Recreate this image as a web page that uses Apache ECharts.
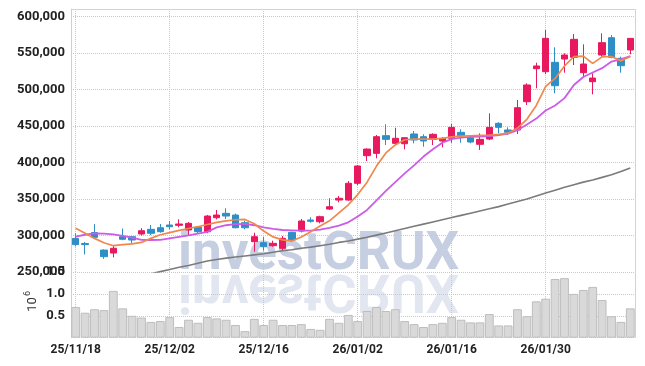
<!DOCTYPE html>
<html><head><meta charset="utf-8">
<script src="https://cdn.jsdelivr.net/npm/echarts@6/dist/echarts.min.js"></script>
<style>html,body{margin:0;padding:0;background:#fff}#c{width:645px;height:366px}</style>
</head><body><div id="c"></div>
<script>
const dates = ['25/11/18','25/11/19','25/11/20','25/11/21','25/11/24','25/11/25','25/11/26','25/11/27','25/11/28','25/12/01',
'25/12/02','25/12/03','25/12/04','25/12/05','25/12/08','25/12/09','25/12/10','25/12/11','25/12/12','25/12/15',
'25/12/16','25/12/17','25/12/18','25/12/19','25/12/22','25/12/23','25/12/24','25/12/26','25/12/29','25/12/30',
'26/01/02','26/01/05','26/01/06','26/01/07','26/01/08','26/01/09','26/01/12','26/01/13','26/01/14','26/01/15',
'26/01/16','26/01/19','26/01/20','26/01/21','26/01/22','26/01/23','26/01/26','26/01/27','26/01/28','26/01/29',
'26/01/30','26/02/02','26/02/03','26/02/04','26/02/05','26/02/06','26/02/09','26/02/10','26/02/11','26/02/12'];

const opens = [296000,289000,304000,280000,276000,298300,298300,302000,308400,310600,314300,313900,307500,311200,305200,324300,330300,328000,317500,291500,290100,286000,282400,304300,306100,321200,318800,336200,348500,348500,371400,409200,412400,436600,426100,425600,438900,435200,431600,429300,433000,441200,433800,424800,432000,453500,444400,444400,483100,528300,524200,537000,541500,543900,522800,510500,547000,570700,542500,553900];
const closes = [287500,287500,297500,271000,282500,294800,293800,306500,303000,305200,312000,315700,316600,305200,326600,328000,326600,310600,310600,298300,284600,289200,296100,293800,319800,319400,325700,339400,350900,371400,395100,418300,435200,431600,433000,433800,430700,429300,438500,433000,448000,436600,427900,431600,448000,448000,441200,474900,506000,532000,569800,505000,547000,568500,534700,515500,563900,543900,532400,569800];
const lows = [285000,274000,296000,268000,270000,293500,289000,300000,300600,303800,308400,311200,300600,303000,303000,322000,322500,309800,308400,277800,279200,284600,279200,291500,304300,317500,316600,334900,345400,347600,369000,401900,405600,423800,423800,417900,426100,421500,423800,420600,427000,427000,426100,417000,430700,439800,437500,438900,478600,501400,521000,494600,522800,533300,517300,493200,544700,542500,522800,548000];
const highs = [303000,291000,315500,281000,287000,309500,299000,310000,314300,315700,319800,322100,318400,313000,328000,334900,337200,330000,320200,303800,298300,292800,299300,305200,322500,324800,327000,350900,354000,374500,396500,419300,437500,452200,447500,434500,443000,438500,439800,434300,452600,445300,435200,439800,467200,455000,448000,485400,508300,536500,581200,557600,549300,575800,561600,522000,576700,574400,544700,570000];
const volumes = [700000,570000,650000,630000,1070000,670000,500000,460000,360000,380000,
470000,245000,410000,340000,470000,440000,410000,290000,150000,430000,
290000,410000,290000,290000,310000,200000,180000,430000,340000,520000,
380000,610000,700000,610000,650000,380000,310000,245000,310000,340000,
470000,410000,350000,350000,540000,280000,280000,650000,490000,830000,
890000,1340000,1360000,1000000,1090000,1160000,860000,490000,360000,670000];
const ma5 = [310000,303000,296000,290000,286000,287500,288500,290500,296000,301000,304000,307000,309500,312000,315000,318000,320000,321500,322000,316000,306000,298000,294000,292500,298000,305000,313000,320000,331000,342000,356000,373000,395000,413000,424000,431000,432000,432000,432000,433000,435000,436000,436500,437000,437500,438500,440000,447000,459000,478000,504000,515000,532000,545000,545500,535500,544500,545000,539000,545000];
const ma10 = [298500,301000,303000,302500,301500,299500,297000,294000,293800,294000,296000,298000,300000,302500,305000,311000,314000,315500,316000,314000,311000,309000,307500,307000,306500,306500,308000,310500,313500,318000,326000,335000,348000,361000,373000,385000,396000,408000,418000,427000,432000,434000,435000,435500,436000,437500,439500,444000,452000,460000,471000,478000,488000,506000,517000,523000,529000,538000,541000,545500];
const maLong = [232000,234000,236000,238000,240000,242000,244000,245500,247500,250500,253500,256500,259000,262000,265000,267000,269000,270500,272000,273500,275000,277000,279000,280500,282500,284000,286000,288000,290500,292500,295000,297500,300500,303500,306500,309500,312500,315500,318500,321500,324500,327500,330500,333500,336500,339500,343000,346500,350000,354000,358000,362000,366000,369500,373000,376000,379500,383000,387500,392500];

const candles = opens.map((o, i) => [o, closes[i], lows[i], highs[i]]);
const fmt = v => String(v).replace(/\B(?=(\d{3})+(?!\d))/g, ',');
const FONT = 'Roboto';
const gridLine = {type: 'dotted', color: '#c3c7d8', width: 1};

const chart = echarts.init(document.getElementById('c'), null, {renderer: 'canvas'});
chart.setOption({
  animation: false,
  backgroundColor: '#ffffff',
  grid: [
    {left: 71, right: 10, top: 9, height: 263},
    {left: 71, right: 10, top: 272, height: 65.7}
  ],
  xAxis: [
    {type: 'category', gridIndex: 0, data: dates, boundaryGap: true,
     axisLine: {show: false}, axisTick: {show: false}, axisLabel: {show: false},
     splitLine: {show: true, interval: 9, alignWithLabel: true, lineStyle: gridLine}},
    {type: 'category', gridIndex: 1, data: dates, boundaryGap: true,
     axisLine: {show: false}, axisTick: {show: false},
     axisLabel: {interval: 9, margin: 6, color: '#222', fontFamily: FONT, fontSize: 12, fontWeight: 'bold'},
     splitLine: {show: true, interval: 9, alignWithLabel: true, lineStyle: gridLine}}
  ],
  yAxis: [
    {type: 'value', gridIndex: 0, min: 250000, max: 610000, interval: 50000,
     axisLine: {show: true, lineStyle: {color: '#cfcfcf'}}, axisTick: {show: false},
     axisLabel: {showMaxLabel: false, margin: 6, color: '#222', fontFamily: FONT, fontSize: 13, fontWeight: 'bold', formatter: v => fmt(v)},
     splitLine: {show: true, lineStyle: gridLine}},
    {type: 'value', gridIndex: 1, min: 0, max: 1500000, interval: 500000,
     axisLine: {show: true, lineStyle: {color: '#cfcfcf'}}, axisTick: {show: false},
     axisLabel: {showMinLabel: false, margin: 6, color: '#222', fontFamily: FONT, fontSize: 13, fontWeight: 'bold', formatter: v => (v / 1e6).toFixed(1)},
     splitLine: {show: true, lineStyle: gridLine}}
  ],
  graphic: [
    {type: 'text', z: -10, x: 178, y: 256,
     style: {text: 'investCRUX', font: 'bold 53px Roboto', fill: '#c6cee2', verticalAlign: 'middle'}},
    {type: 'group', z: -10, x: 0, y: 272, scaleY: -1, children: [
      {type: 'text', z: -10, x: 178, y: -16,
       style: {text: 'investCRUX', font: 'bold 53px Roboto', fill: '#c6cee2', opacity: 0.5, verticalAlign: 'middle'}}
    ]},
    {type: 'polyline', z: 5, shape: {points: [[71, 9.5], [635.5, 9.5], [635.5, 338]]},
     style: {stroke: '#d3d3d3', lineWidth: 1, fill: null}},
    {type: 'text', x: 32.5, y: 304.5, rotation: Math.PI / 2,
     style: {text: '10', font: '13px Roboto', fill: '#333', align: 'center', verticalAlign: 'middle'}},
    {type: 'text', x: 27.5, y: 293.5, rotation: Math.PI / 2,
     style: {text: '6', font: '9px Roboto', fill: '#333', align: 'center', verticalAlign: 'middle'}}
  ],
  series: [
    {type: 'candlestick', xAxisIndex: 0, yAxisIndex: 0, data: candles, barWidth: 7,
     itemStyle: {color: '#e8195f', color0: '#2e8fc6', borderColor: '#e8195f', borderColor0: '#2e8fc6', borderWidth: 1}},
    {type: 'line', xAxisIndex: 0, yAxisIndex: 0, data: maLong, symbol: 'none', z: 3,
     lineStyle: {color: '#7b7b7b', width: 1.6}},
    {type: 'line', xAxisIndex: 0, yAxisIndex: 0, data: ma10, symbol: 'none', z: 3,
     lineStyle: {color: '#cc5ce8', width: 1.8}},
    {type: 'line', xAxisIndex: 0, yAxisIndex: 0, data: ma5, symbol: 'none', z: 3,
     lineStyle: {color: '#f0874c', width: 1.7}},
    {type: 'bar', xAxisIndex: 1, yAxisIndex: 1, data: volumes, barCategoryGap: '6%',
     itemStyle: {color: '#d9d9d9', borderColor: '#bdbdbd', borderWidth: 1}}
  ]
});
</script></body></html>
